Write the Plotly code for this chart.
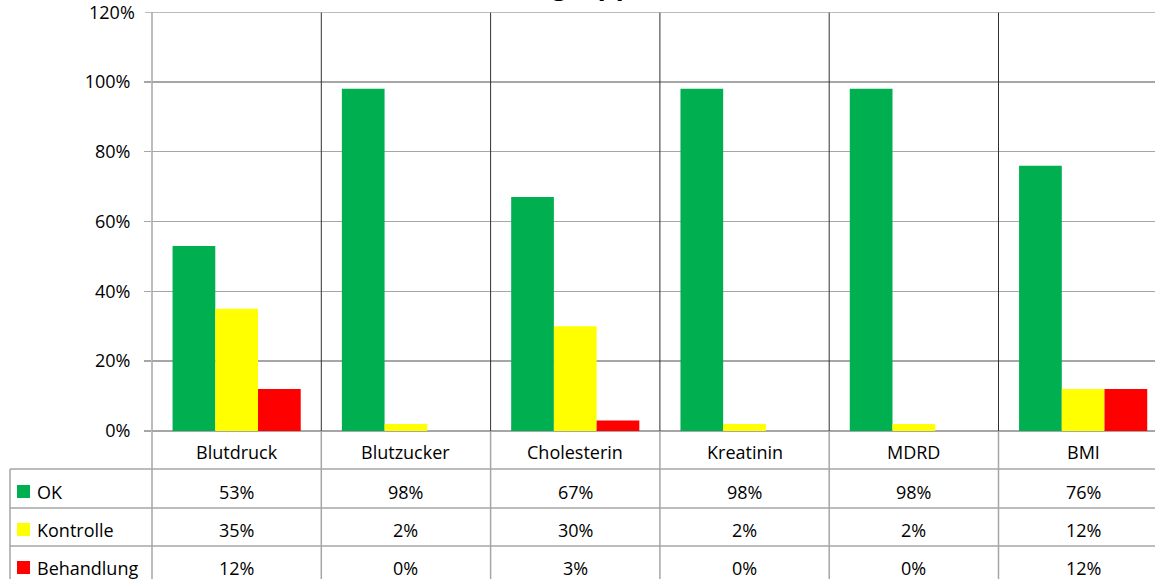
import plotly.graph_objects as go

categories = ["Blutdruck", "Blutzucker", "Cholesterin", "Kreatinin", "MDRD", "BMI"]
series_names = ["OK", "Kontrolle", "Behandlung"]
ok_values = [53, 98, 67, 98, 98, 76]
kontrolle_values = [35, 2, 30, 2, 2, 12]
behandlung_values = [12, 0, 3, 0, 0, 12]
y_tick_values = [0, 20, 40, 60, 80, 100, 120]
y_tick_labels = ["0%", "20%", "40%", "60%", "80%", "100%", "120%"]
title_text = "Altersgruppe"

colors = ["#00b050", "#ffff00", "#ff0000"]
series_values = [ok_values, kontrolle_values, behandlung_values]

W, H = 1155, 579
L, T, B_PX = 152, 12, 431
PLOT_W = W - L
PLOT_H = B_PX - T
CAT_W = 169.3
FONT = "'Open Sans', Lato, sans-serif"
FS = 18
GRID = "#a6a6a6"


def py(p):
    return (B_PX - p) / PLOT_H


def px(p):
    return (p - L) / PLOT_W


fig = go.Figure()
for name, vals, col in zip(series_names, series_values, colors):
    fig.add_trace(go.Bar(x=categories, y=vals, name=name, marker=dict(color=col, line=dict(width=0)),
                         hoverinfo="skip"))

shapes = []
annotations = []
n = len(categories)
for i in range(n - 1):
    shapes.append(dict(type="line", xref="x", yref="paper", x0=i + 0.5, x1=i + 0.5, y0=0, y1=1,
                       line=dict(color="#303030", width=1), layer="above"))
    shapes.append(dict(type="line", xref="x", yref="paper", x0=i + 0.5, x1=i + 0.5, y0=py(579), y1=0,
                       line=dict(color=GRID, width=1.5)))
shapes.append(dict(type="line", xref="paper", yref="paper", x0=0, x1=0, y0=py(579), y1=1,
                   line=dict(color=GRID, width=1.5)))
shapes.append(dict(type="line", xref="paper", yref="paper", x0=px(10), x1=px(10), y0=py(579), y1=py(469),
                   line=dict(color=GRID, width=1.5)))
for yline in [469, 508, 546]:
    shapes.append(dict(type="line", xref="paper", yref="paper", x0=px(10), x1=1, y0=py(yline), y1=py(yline),
                       line=dict(color=GRID, width=1.5)))

# top gridline and top tick label (plotly drops them at the range edge)
top_val = y_tick_values[-1]
shapes.append(dict(type="line", xref="paper", yref="y", x0=0, x1=1, y0=top_val, y1=top_val,
                   line=dict(color=GRID, width=1.5)))
shapes.append(dict(type="line", xref="paper", yref="y", x0=px(145), x1=0, y0=top_val, y1=top_val,
                   line=dict(color=GRID, width=1.5)))
annotations.append(dict(text=y_tick_labels[-1], xref="paper", yref="y", x=px(137), y=top_val,
                        xanchor="right", yanchor="middle", showarrow=False,
                        font=dict(size=FS, color="#000", family=FONT)))

for i, c in enumerate(categories):
    annotations.append(dict(text=c, xref="x", yref="paper", x=i, y=py(452), showarrow=False,
                            font=dict(size=FS, color="#000", family=FONT), yanchor="middle"))

row_y = [492, 530, 568]
for r, (name, vals, col) in enumerate(zip(series_names, series_values, colors)):
    yc = row_y[r]
    shapes.append(dict(type="rect", xref="paper", yref="paper", x0=px(17), x1=px(30), y0=py(yc + 6), y1=py(yc - 7),
                       fillcolor=col, line=dict(width=0)))
    annotations.append(dict(text=name, xref="paper", yref="paper", x=px(35), y=py(yc), showarrow=False,
                            xanchor="left", yanchor="middle", font=dict(size=FS, color="#000", family=FONT)))
    for i, v in enumerate(vals):
        annotations.append(dict(text=f"{v}%", xref="x", yref="paper", x=i, y=py(yc), showarrow=False,
                                yanchor="middle", font=dict(size=FS, color="#000", family=FONT)))

# title, almost entirely above the visible page (only descenders show)
annotations.append(dict(text=f"<b>{title_text}</b>", xref="paper", yref="paper", x=px(463), y=py(-17),
                        xanchor="left", yanchor="middle", showarrow=False,
                        font=dict(size=32, color="#000", family="Lato, sans-serif")))

fig.update_layout(
    width=W, height=H,
    margin=dict(l=L, r=0, t=T, b=H - B_PX, pad=0),
    paper_bgcolor="white", plot_bgcolor="white",
    barmode="group", bargap=0.243, bargroupgap=0,
    showlegend=False, hovermode=False,
    shapes=shapes, annotations=annotations,
    font=dict(family=FONT, color="#000"),
    xaxis=dict(range=[-0.5, -0.5 + PLOT_W / CAT_W], showticklabels=False, showgrid=False,
               showline=False, zeroline=False, ticks="", fixedrange=True),
    yaxis=dict(range=[0, 120], tickvals=y_tick_values[:-1], ticktext=y_tick_labels[:-1],
               showgrid=True, gridcolor=GRID, gridwidth=1.5, zeroline=True, zerolinecolor=GRID,
               zerolinewidth=1.5,
               ticks="outside", ticklen=7, tickcolor=GRID, tickwidth=1.5,
               showline=False, tickfont=dict(size=FS, color="#000", family=FONT),
               ticklabelstandoff=10, fixedrange=True),
)

fig.write_html("out.html", config={"displayModeBar": False, "staticPlot": True},
               post_script="document.body.style.margin='0px';document.body.style.overflow='hidden';")
